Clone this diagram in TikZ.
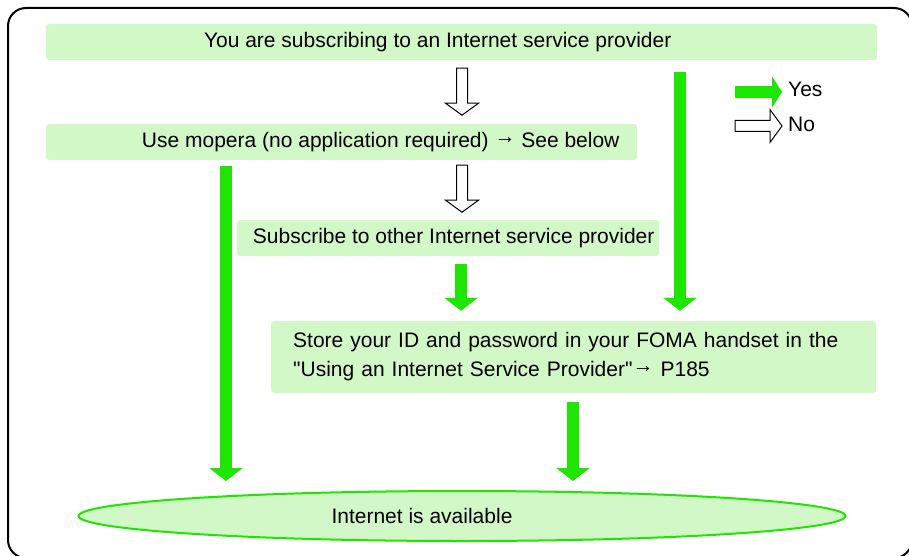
\documentclass[tikz,border=0pt]{standalone}
\usepackage{fontspec}
\setmainfont{Liberation Sans}[Ligatures=TeXOff]
\usetikzlibrary{arrows.meta,shapes.geometric,calc}

\definecolor{boxgreen}{RGB}{211,248,200}
\definecolor{yesgreen}{RGB}{30,230,0}
\newcommand\seearrow{\raisebox{4pt}{→}}

\tikzset{
  box/.style={fill=boxgreen, rounded corners=3pt, anchor=west, minimum height=36pt,
    inner xsep=0pt, inner ysep=0pt, font=\fontsize{21}{29}\selectfont},
  yesarrow/.style={draw=yesgreen, line width=12pt, -{Triangle[width=33pt,length=13pt]}},
  noarrow/.pic={
    \draw[fill=white, line width=1pt]
      (-5.5,0) -- (5.5,0) -- (5.5,35) -- (16.5,35) -- (0,47) -- (-16.5,35) -- (-5.5,35) -- cycle;
  },
  legend/.style={anchor=west, inner sep=0pt, font=\fontsize{21}{25}\selectfont}
}

\begin{document}
\begin{tikzpicture}[x=1pt, y=-1pt]
  \useasboundingbox (0,0) rectangle (909,556);
  % Frame
  \draw[line width=2pt, rounded corners=18pt] (8,8) rectangle (912,558);

  % Steps
  \node[box, minimum width=831pt] (sub) at (46,42)
    {You are subscribing to an Internet service provider\hspace*{48pt}};
  \node[box, minimum width=591pt] (mopera) at (46,142)
    {\hspace*{78pt}Use mopera (no application required) \seearrow{} See below};
  \node[box, minimum width=422pt] (other) at (237,238)
    {\hspace*{11pt}Subscribe to other Internet service provider};
  \node[box, minimum height=72pt, inner xsep=22pt, text width=561pt, align=left] (store) at (271,357)
    {Store your ID and password in your FOMA handset in the\\
     "Using an Internet Service Provider"\seearrow{} P185};
  \node[ellipse, draw=yesgreen, line width=2pt, fill=boxgreen, minimum width=767pt,
    minimum height=50pt, inner sep=0pt, font=\fontsize{21}{25}\selectfont] (avail) at (462,516)
    {Internet is available\hspace*{80pt}};

  % Columns of the arrows
  \coordinate (ncol) at (462,0);
  \coordinate (lcol) at (226,0);
  \coordinate (mcol) at (461,0);
  \coordinate (rcol) at (680,0);
  \coordinate (bcol) at (573,0);

  % No
  \pic at ($(sub.south -| ncol)+(0,8)$) {noarrow};
  \pic at ($(mopera.south -| ncol)+(0,5)$) {noarrow};

  % Yes
  \draw[yesarrow, shorten <=12pt, shorten >=10pt] (sub.south -| rcol) -- (store.north -| rcol);
  \draw[yesarrow, shorten <=6pt, shorten >=9pt] (mopera.south -| lcol) -- (avail.north -| lcol);
  \draw[yesarrow, shorten <=8pt, shorten >=10pt] (other.south -| mcol) -- (store.north -| mcol);
  \draw[yesarrow, shorten <=9pt, shorten >=9pt] (store.south -| bcol) -- (avail.north -| bcol);

  % Legend
  \coordinate (yesA) at (735,92);
  \coordinate (yesB) at (782,92);
  \draw[draw=yesgreen, line width=12pt, -{Triangle[width=31pt,length=10pt]}] (yesA) -- (yesB);
  \node[legend] (yes) at (788,89.5) {Yes};
  \pic[rotate=90] at (735,126) {noarrow};
  \node[legend] (no) at (788,124.5) {No};
\end{tikzpicture}
\end{document}
